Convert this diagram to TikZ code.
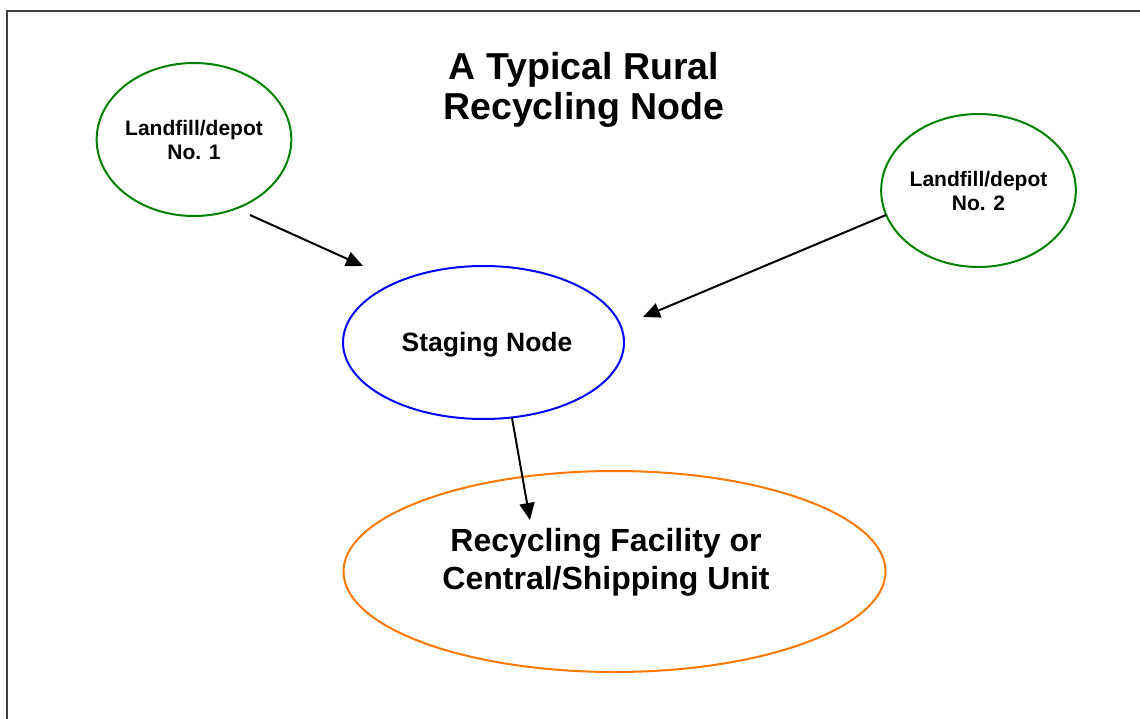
\documentclass[tikz,border=0pt]{standalone}
\usepackage{fontspec}
\setmainfont{Liberation Sans}
\usetikzlibrary{arrows.meta,shapes.geometric}
\begin{document}
\begin{tikzpicture}[x=1pt,y=-1pt,
  oval/.style={ellipse,line width=2pt,inner sep=0pt,align=center,font=\bfseries},
  flow/.style={line width=2pt,-{Triangle[length=17pt,width=15pt]}},
  frame/.style={draw=black!75,line width=2.6pt}]
\useasboundingbox (0,0) rectangle (1140,719);
\fill[white] (0,0) rectangle (1140,719);
\draw[frame] (7,760) -- (7,11) -- (1160,11);
\node[font=\bfseries\fontsize{37.5}{40}\selectfont,align=center] (title) at (584,90) {A Typical Rural\\Recycling Node};
\node[oval,draw=green!50!black,minimum width=188pt,minimum height=153pt,font=\bfseries\fontsize{21}{24}\selectfont] (l1) at (194,139.5) {Landfill/depot\\No. 1};
\node[oval,draw=green!50!black,minimum width=187pt,minimum height=153pt,font=\bfseries\fontsize{21}{24}\selectfont] (l2) at (978.5,190.5) {Landfill/depot\\No. 2};
\node[oval,draw=blue,minimum width=281pt,minimum height=153pt] (st) at (483.5,342.5) {};
\node[font=\bfseries\fontsize{26.5}{30}\selectfont] (stt) at (487,345) {Staging Node};
\node[oval,draw=orange!95!red,minimum width=542pt,minimum height=201pt] (rf) at (614.5,571.5) {};
\node[font=\bfseries\fontsize{32}{38}\selectfont,align=center] (rft) at (606,562) {Recycling Facility or\\Central/Shipping Unit};
\coordinate (a1s) at (250,215);
\coordinate (a1e) at (363,266);
\coordinate (a2s) at (886,215);
\coordinate (a2e) at (643,317);
\coordinate (a3s) at (512,418);
\coordinate (a3e) at (530,520);
\draw[flow] (a1s) -- (a1e);
\draw[flow] (a2s) -- (a2e);
\draw[flow] (a3s) -- (a3e);
\end{tikzpicture}
\end{document}
